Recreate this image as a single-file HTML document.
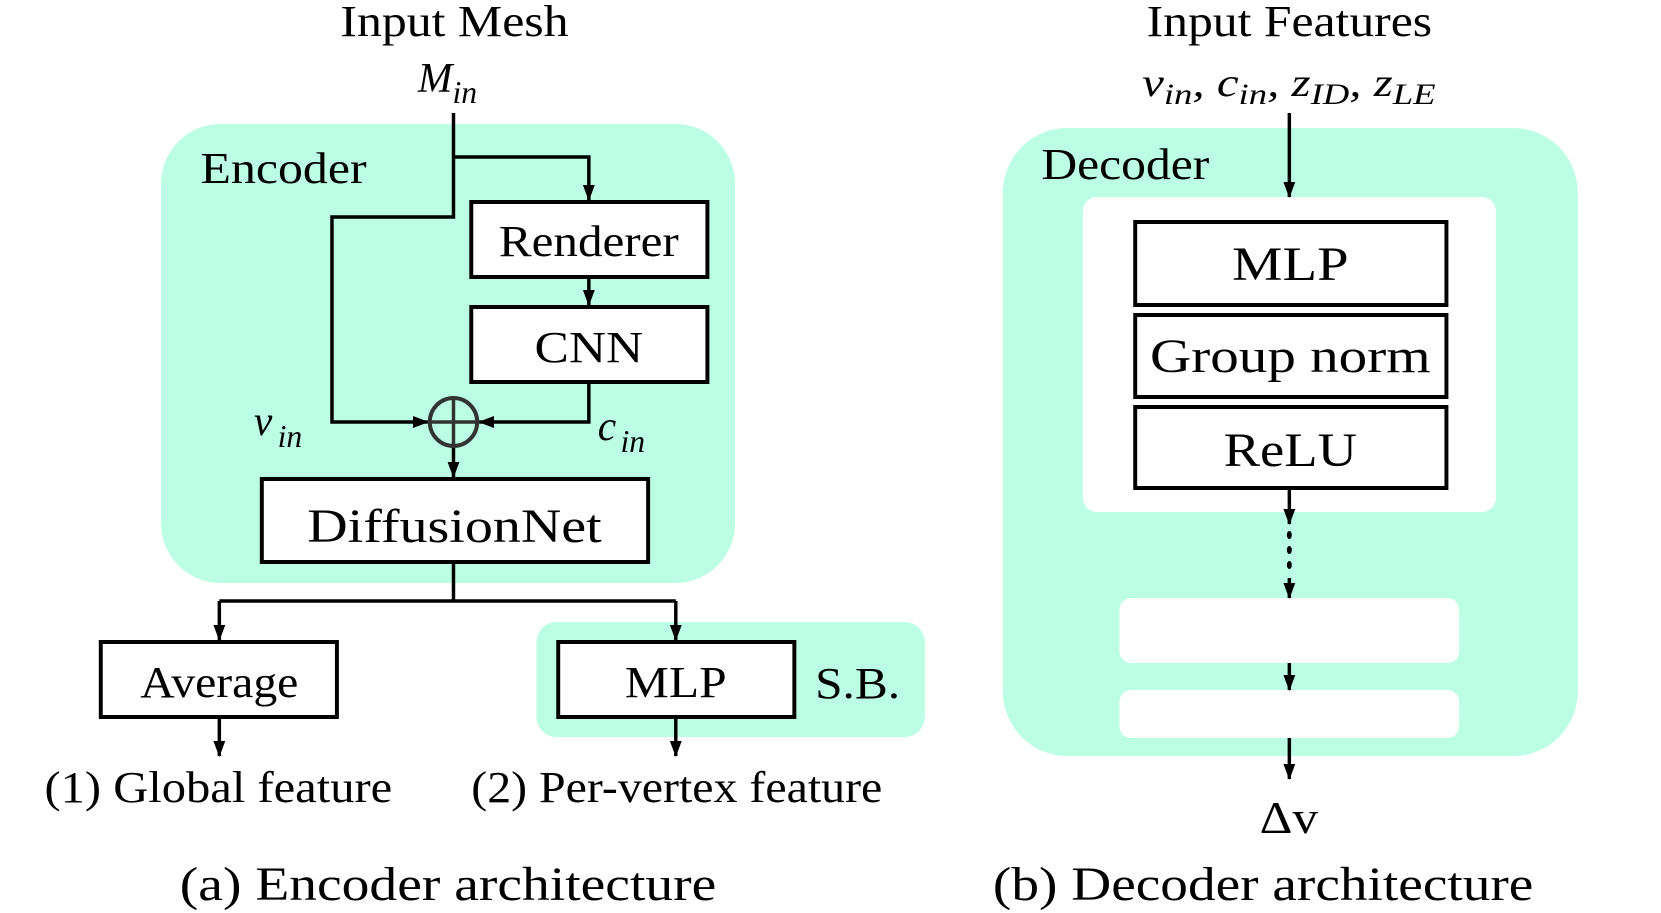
<!DOCTYPE html>
<html><head><meta charset="utf-8"><style>
html,body{margin:0;padding:0;background:#fff;}
svg{display:block;}
text{font-family:"Liberation Serif",serif;fill:#000;}
.m{font-style:italic;}
</style></head><body>
<svg width="1661" height="913" viewBox="0 0 1661 913" xmlns="http://www.w3.org/2000/svg">
<defs>
<marker id="a" markerWidth="16" markerHeight="14" refX="15" refY="7" orient="auto" markerUnits="userSpaceOnUse"><path d="M0,1 L16,7 L0,13 z" fill="#000"/></marker>
</defs>
<g transform="scale(0.988,1)">
<!-- Encoder background -->
<rect x="163" y="124" width="581" height="459" rx="60" fill="#bbfde5"/>
<rect x="543" y="622" width="393" height="115" rx="20" fill="#bbfde5"/>
<!-- Decoder background -->
<rect x="1015" y="128" width="582" height="628" rx="65" fill="#bbfde5"/>
<rect x="1133" y="598" width="344" height="65" rx="12" fill="#fff"/>
<rect x="1133" y="690" width="344" height="48" rx="12" fill="#fff"/>

<!-- Titles -->
<text x="460" y="36" font-size="44" text-anchor="middle" textLength="231" lengthAdjust="spacingAndGlyphs">Input Mesh</text>
<text x="423" y="92" font-size="42" class="m">M</text>
<text x="458" y="103" font-size="32" class="m">in</text>
<text x="203" y="183" font-size="44" textLength="168" lengthAdjust="spacingAndGlyphs">Encoder</text>

<!-- Encoder connectors -->
<g stroke="#000" stroke-width="3.5" fill="none">
<path d="M459,113 V217 H336 V422 H433" marker-end="url(#a)"/>
<path d="M459,157 H596 V200" marker-end="url(#a)"/>
<path d="M596,277 V305" marker-end="url(#a)"/>
<path d="M596,382 V422 H485" marker-end="url(#a)"/>
<path d="M459,447 V477" marker-end="url(#a)"/>
<path d="M459,562 V601"/>
<path d="M222,601 H684"/>
<path d="M222,601 V640" marker-end="url(#a)"/>
<path d="M684,601 V640" marker-end="url(#a)"/>
<path d="M222,717 V756" marker-end="url(#a)"/>
<path d="M684,717 V756" marker-end="url(#a)"/>
</g>
<circle cx="459" cy="422" r="24" fill="none" stroke="#333" stroke-width="4"/>
<path d="M459,398 V446 M435,422 H483" stroke="#333" stroke-width="3.5"/>

<!-- Encoder boxes -->
<g fill="#fff" stroke="#000" stroke-width="4">
<rect x="477" y="202" width="239" height="75"/>
<rect x="477" y="307" width="239" height="75"/>
<rect x="265" y="479" width="391" height="83"/>
<rect x="102" y="642" width="239" height="75"/>
<rect x="565" y="642" width="239" height="75"/>
</g>
<text x="596" y="256" font-size="44" text-anchor="middle" textLength="182" lengthAdjust="spacingAndGlyphs">Renderer</text>
<text x="596" y="362" font-size="44" text-anchor="middle" textLength="110" lengthAdjust="spacingAndGlyphs">CNN</text>
<text x="460" y="542" font-size="48" text-anchor="middle" textLength="298" lengthAdjust="spacingAndGlyphs">DiffusionNet</text>
<text x="222" y="697" font-size="44" text-anchor="middle" textLength="160" lengthAdjust="spacingAndGlyphs">Average</text>
<text x="684" y="697" font-size="44" text-anchor="middle" textLength="103" lengthAdjust="spacingAndGlyphs">MLP</text>
<text x="825" y="698" font-size="44" textLength="86" lengthAdjust="spacingAndGlyphs" fill="#222">S.B.</text>

<text x="257" y="435" font-size="42" class="m">v</text>
<text x="281" y="447" font-size="32" class="m">in</text>
<text x="605" y="440" font-size="42" class="m">c</text>
<text x="628" y="452" font-size="32" class="m">in</text>

<text x="45" y="802" font-size="44" textLength="352" lengthAdjust="spacingAndGlyphs">(1) Global feature</text>
<text x="477" y="802" font-size="44" textLength="416" lengthAdjust="spacingAndGlyphs">(2) Per-vertex feature</text>
<text x="182" y="900" font-size="48" textLength="543" lengthAdjust="spacingAndGlyphs">(a) Encoder architecture</text>
<text x="1005" y="900" font-size="48" textLength="547" lengthAdjust="spacingAndGlyphs">(b) Decoder architecture</text>
<text x="1275" y="833" font-size="46" textLength="59" lengthAdjust="spacingAndGlyphs">Δv</text>

<!-- Decoder (shifted) -->
<g transform="translate(10,0)">
<rect x="1086" y="197" width="418" height="315" rx="14" fill="#fff"/>
<text x="1295" y="36" font-size="44" text-anchor="middle" textLength="289" lengthAdjust="spacingAndGlyphs">Input Features</text>
<text x="1146" y="96" font-size="40" class="m" textLength="297" lengthAdjust="spacingAndGlyphs">v<tspan font-size="30" dy="8">in</tspan><tspan dy="-8">, c</tspan><tspan font-size="30" dy="8">in</tspan><tspan dy="-8">, z</tspan><tspan font-size="30" dy="8">ID</tspan><tspan dy="-8">, z</tspan><tspan font-size="30" dy="8">LE</tspan></text>
<text x="1044" y="179" font-size="44" textLength="170" lengthAdjust="spacingAndGlyphs">Decoder</text>

<g stroke="#000" stroke-width="3.5" fill="none">
<path d="M1295,113 V197" marker-end="url(#a)"/>
<path d="M1295,488 V524" marker-end="url(#a)"/>
<path d="M1295,578 V598" marker-end="url(#a)"/>
<path d="M1295,663 V690" marker-end="url(#a)"/>
<path d="M1295,738 V779" marker-end="url(#a)"/>
</g>
<g fill="#000">
<ellipse cx="1295" cy="535" rx="2.5" ry="4"/>
<ellipse cx="1295" cy="550" rx="2.5" ry="4"/>
<ellipse cx="1295" cy="565" rx="2.5" ry="4"/>
</g>
<g fill="#fff" stroke="#000" stroke-width="4">
<rect x="1139" y="222" width="315" height="83"/>
<rect x="1139" y="315" width="315" height="82"/>
<rect x="1139" y="407" width="315" height="81"/>
</g>
<text x="1296" y="280" font-size="48" text-anchor="middle" textLength="118" lengthAdjust="spacingAndGlyphs">MLP</text>
<text x="1296" y="372" font-size="48" text-anchor="middle" textLength="284" lengthAdjust="spacingAndGlyphs">Group norm</text>
<text x="1296" y="466" font-size="48" text-anchor="middle" textLength="135" lengthAdjust="spacingAndGlyphs">ReLU</text>
</g>
</g>
</svg>
</body></html>
